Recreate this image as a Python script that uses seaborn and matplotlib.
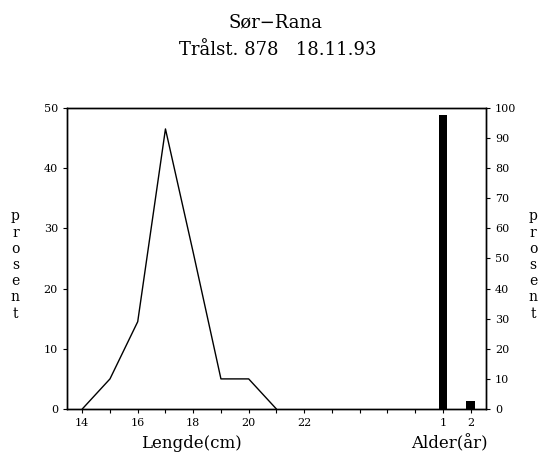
import matplotlib
matplotlib.use("Agg")
import matplotlib.pyplot as plt
import seaborn as sns
import pandas as pd

# lengdefordeling (prosent)
lengde = [14, 15, 16, 17, 18, 19, 20, 21]
lengde_pct = [0, 5, 14.5, 46.5, 26, 5, 5, 0]

# aldersfordeling (prosent), alder 1 og 2 plassert etter lengdeaksen
alder_lbl = ["1", "2"]
alder_pos = [27, 28]
alder_pct = [97.5, 2.5]

sns.set_style("ticks")
plt.rcParams['font.family'] = ['DejaVu Serif']
plt.rcParams['text.color'] = 'black'
plt.rcParams['xtick.color'] = 'black'
plt.rcParams['ytick.color'] = 'black'

df_l = pd.DataFrame({'lengde': lengde, 'pct': lengde_pct})
df_a = pd.DataFrame({'pos': alder_pos, 'pct': alder_pct})

fig = plt.figure(figsize=(5.49, 4.57), dpi=100)
ax = fig.add_axes([0.122, 0.105, 0.763, 0.659])

sns.lineplot(data=df_l, x='lengde', y='pct', ax=ax, color='black', linewidth=1.0)
ax.set_xlim(13.45, 28.55)
ax.set_ylim(0, 50)
ax.set_yticks([0, 10, 20, 30, 40, 50])

ax2 = ax.twinx()
sns.barplot(data=df_a, x='pos', y='pct', ax=ax2, color='black', width=0.3,
            native_scale=True, saturation=1, linewidth=0)
ax2.set_ylim(0, 100)
ax2.set_yticks(range(0, 101, 10))
ax.set_xlim(13.45, 28.55)

xt = list(range(14, 29))
xl = []
for v in xt:
    if v in (14, 16, 18, 20, 22):
        xl.append(str(v))
    elif v in alder_pos:
        xl.append(alder_lbl[alder_pos.index(v)])
    else:
        xl.append("")
ax.set_xticks(xt)
ax.set_xticklabels(xl)

for a in (ax, ax2):
    a.tick_params(labelsize=8, length=3, width=0.8, color='black', labelcolor='black')
    a.set_xlabel("")
    a.set_ylabel("")
    for s in a.spines.values():
        s.set_visible(True)
        s.set_color('black')
        s.set_linewidth(1.0)

ax.set_xlabel("Lengde(cm)", fontsize=12, labelpad=0, color='black')
ax.xaxis.set_label_coords(0.296, -0.085)
ax.text(0.914, -0.085, "Alder(år)", transform=ax.transAxes, fontsize=12,
        ha='center', va='top')

fig.text(0.028, 0.42, "\n".join("prosent"), fontsize=10, ha='center', va='center',
         linespacing=1.2)
fig.text(0.971, 0.42, "\n".join("prosent"), fontsize=10, ha='center', va='center',
         linespacing=1.2)

fig.text(0.501, 0.952, "Sør−Rana", fontsize=13, ha='center', va='center')
fig.text(0.506, 0.891, "Trålst. 878   18.11.93", fontsize=13, ha='center', va='center')

fig.savefig("out.png", dpi=100)
